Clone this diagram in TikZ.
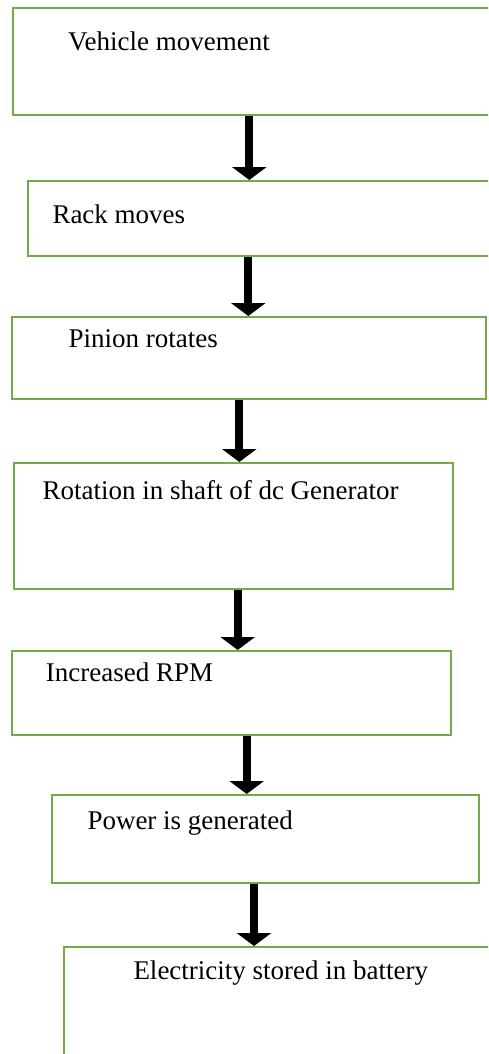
\documentclass[tikz,border=0pt]{standalone}
\usepackage{fontspec}
\setmainfont{Liberation Serif}
\usetikzlibrary{arrows.meta,positioning}
\definecolor{colorbox}{RGB}{112,173,71}
\tikzstyle{stepbox}=[rectangle, draw=colorbox, line width=2pt, inner sep=0pt]
\tikzstyle{steptext}=[anchor=base west, inner sep=0pt, font=\fontsize{27}{32}\selectfont]
\tikzstyle{flow}=[line width=8pt, -{Triangle[width=34pt, length=13pt]}]

\begin{document}
\begin{tikzpicture}[x=1pt, y=-1pt]
	\useasboundingbox (0, 0) rectangle (488, 1054);
	\clip (0, 0) rectangle (488, 1054);
	
	\node[stepbox, minimum width=487pt, minimum height=107pt] at (256.5, 61.5) (b1) {};
	
	\node[stepbox, minimum width=473pt, minimum height=75pt] at (264, 218.5) (b2) {};
	
	\node[stepbox, minimum width=474pt, minimum height=82pt] at (248.7, 358) (b3) {};
	
	\node[stepbox, minimum width=439pt, minimum height=126pt] at (233.5, 526) (b4) {};
	
	\node[stepbox, minimum width=439pt, minimum height=84pt] at (231.5, 693) (b5) {};
	
	\node[stepbox, minimum width=427pt, minimum height=88pt] at (265, 839) (b6) {};
	
	\node[stepbox, minimum width=436pt, minimum height=130pt] at (282.3, 1012) (b7) {};
	
	\node[steptext] at (68, 51) (t1) {Vehicle movement};
	\node[steptext] at (52.3, 223) (t2) {Rack moves};
	\node[steptext] at (68.3, 347.7) (t3) {Pinion rotates};
	\node[steptext] at (42.3, 499.3) (t4) {Rotation in shaft of dc Generator};
	\node[steptext] at (45.7, 681.7) (t5) {Increased RPM};
	\node[steptext] at (87.3, 829) (t6) {Power is generated};
	\node[steptext] at (133.3, 979) (t7) {Electricity stored in battery};
	
	\draw[flow] (249.3, 0 |- b1.south) -- (249.3, 0 |- b2.north);
	\draw[flow] (248.3, 0 |- b2.south) -- (248.3, 0 |- b3.north);
	\draw[flow] (239.3, 0 |- b3.south) -- (239.3, 0 |- b4.north);
	\draw[flow] (237.7, 0 |- b4.south) -- (237.7, 0 |- b5.north);
	\draw[flow] (246.7, 0 |- b5.south) -- (246.7, 0 |- b6.north);
	\draw[flow] (254, 0 |- b6.south) -- (254, 0 |- b7.north);
	
\end{tikzpicture}
\end{document}
